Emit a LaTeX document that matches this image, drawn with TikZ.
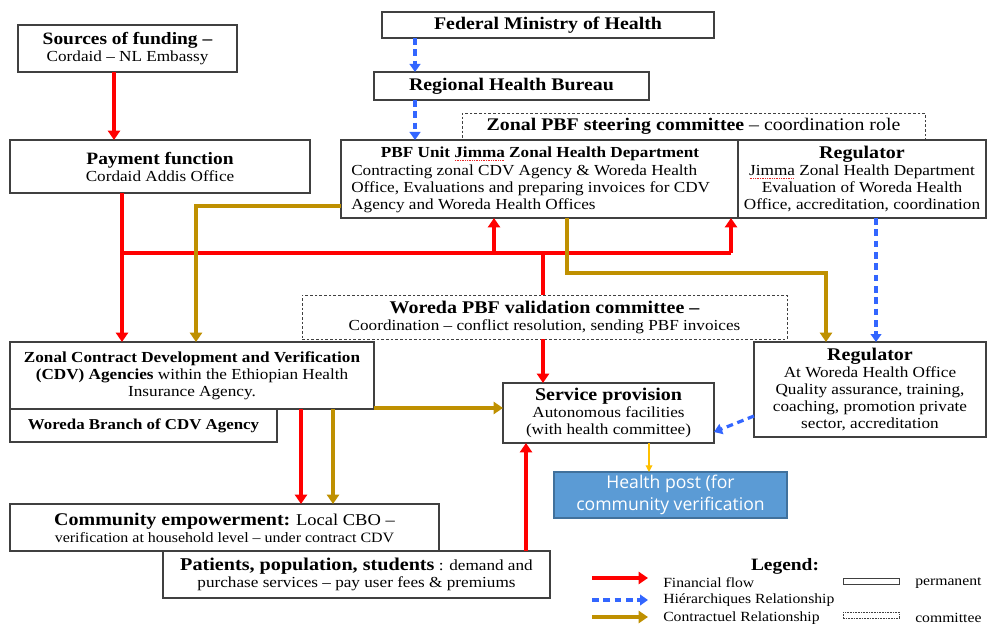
\documentclass[tikz,border=0pt]{standalone}
\usepackage{fontspec}
\setmainfont{Liberation Serif}[FakeStretch=1.12]
\newfontfamily\hpfont{Open Sans}
\usetikzlibrary{arrows.meta}

\definecolor{finred}{RGB}{255,0,0}
\definecolor{hierblue}{RGB}{51,102,255}
\definecolor{congold}{RGB}{191,144,0}
\definecolor{postblue}{RGB}{91,155,213}
\definecolor{postedge}{RGB}{65,113,156}
\definecolor{frame}{RGB}{64,64,64}
\definecolor{postlink}{RGB}{255,192,0}
\definecolor{spellred}{RGB}{230,40,40}

\newcommand{\fs}[2]{\fontsize{#1}{#2}\selectfont}
% box from corner (x1,y1) to (x2,y2) in pixel-like units
\newcommand{\mkbox}[7][]{\node[boxframe,minimum width={(#5-#3)*0.75pt},minimum height={(#6-#4)*0.75pt},#1] (#2) at ({(#3+#5)/2},{(#4+#6)/2}) {#7};}
\newcommand{\hd}{\fs{13.4}{15}\bfseries}
% word with a dotted red underline
\newcommand{\spellmark}[1]{\setbox0\hbox{#1}\rlap{\raisebox{-2.4pt}{\textcolor{spellred}{\leaders\hbox to 1.3pt{\hss\rule{0.7pt}{0.6pt}\hss}\hskip\wd0}}}#1}

\tikzset{
  boxframe/.style={draw=frame, fill=white, line width=0.8pt, inner sep=0pt, outer sep=0pt, align=center, font=\fs{11.5}{12.75}},
  committee/.style={dash pattern=on 2pt off 1.5pt, line width=0.6pt},
  fin/.style={draw=finred, line width=2.6pt, -{Triangle[length=7pt,width=9pt]}},
  finline/.style={draw=finred, line width=2.6pt},
  hier/.style={draw=hierblue, line width=2.4pt, dash pattern=on 5pt off 3.5pt, -{Triangle[length=6pt,width=8pt]}},
  con/.style={draw=congold, line width=2.6pt, -{Triangle[length=7pt,width=9pt]}},
  postarrow/.style={draw=postlink, line width=0.9pt, -{Triangle[length=5pt,width=5pt]}},
  txt/.style={inner sep=0pt, font=\fs{11.5}{12.75}},
  legtxt/.style={inner sep=0pt, anchor=west, font=\fs{10.5}{12}},
}

\begin{document}
\begin{tikzpicture}[x=0.75pt,y=-0.75pt]
\useasboundingbox (0,0) rectangle (987,624);

% ---- boxes ----
\mkbox{src}{18}{25}{237}{72}{{\fs{13}{15}\bfseries Sources of funding –}\\ Cordaid – NL Embassy}
\mkbox{fmoh}{382}{12}{714}{38}{\fs{13.3}{15}\bfseries Federal Ministry of Health}
\mkbox{rhb}{374}{72}{649}{100}{\fs{13.3}{15}\bfseries Regional Health Bureau}
\mkbox{pay}{10}{140}{310}{193}{{\fs{13}{15}\bfseries Payment function}\\ Cordaid Addis Office}
\mkbox[committee]{steer}{462}{113}{925}{140}{\fs{13.3}{15}\textbf{Zonal PBF steering committee} – coordination role}

\mkbox{pbf}{341}{140}{738}{218}{}
\node[txt, font=\fs{11.5}{13}\bfseries] (pbfhead) at (540,154) {PBF Unit \spellmark{Jimma} Zonal Health Department};
\node[txt, anchor=west, align=left] (pbfbody) at (351,189) {Contracting zonal CDV Agency \& Woreda Health\\ Office, Evaluations and preparing invoices for CDV\\ Agency and Woreda Health Offices};

\mkbox{regz}{738}{140}{986}{218}{{\hd Regulator}\\ \spellmark{Jimma} Zonal Health Department\\ Evaluation of Woreda Health\\ Office, accreditation, coordination}

\mkbox[committee]{wval}{302}{295}{787}{339}{{\hd Woreda PBF validation committee –}\\ Coordination – conflict resolution, sending PBF invoices}

\mkbox{cdv}{10}{342}{374}{409}{\textbf{Zonal Contract Development and Verification}\\ \textbf{(CDV) Agencies} within the Ethiopian Health\\ Insurance Agency.}
\mkbox{wbr}{10}{409}{277}{442}{\fs{11.3}{13}\bfseries Woreda Branch of CDV Agency}

\mkbox{svc}{503}{383}{714}{443}{{\hd Service provision}\\ Autonomous facilities\\ (with health committee)}
\mkbox{regw}{754}{342}{986}{437}{{\hd Regulator}\\ At Woreda Health Office\\ Quality assurance, training,\\ coaching, promotion private\\ sector, accreditation}

\mkbox[fill=postblue, draw=postedge, text=white, font=\hpfont\fs{13.2}{16}]{hpost}{554}{472}{787}{518}{Health post (for\\ community verification}

\mkbox{comm}{10}{504}{439}{551}{{\hd Community empowerment:} {\fs{12.4}{15}Local CBO –}\\ {\fs{10.7}{13}verification at household level – under contract CDV}}
\mkbox{pat}{163}{551}{550}{598}{{\fs{13.5}{15}\bfseries Patients, population, students} : demand and\\ purchase services – pay user fees \& premiums}

% ---- hierarchy (blue dashed) ----
\coordinate (hx) at (415,0);
\draw[hier] (fmoh.south -| hx) -- (rhb.north -| hx);
\draw[hier] (rhb.south -| hx) -- (pbf.north -| hx);
\coordinate (hx2) at (876,0);
\draw[hier] (regz.south -| hx2) -- (regw.north -| hx2);
\coordinate (hy1) at (0,416);
\coordinate (hy2) at (0,432);
\draw[hier] (regw.west |- hy1) -- (svc.east |- hy2);

% ---- financial flow (red) ----
\coordinate (fx) at (114,0);
\draw[fin] (src.south -| fx) -- (pay.north -| fx);
\coordinate (busL) at (122,253);
\coordinate (busA) at (494,253);
\coordinate (busV) at (543,253);
\coordinate (busR) at (731,253);
\draw[finline] (busL) -- (busR);
\draw[fin] (pay.south -| busL) -- (cdv.north -| busL);
\draw[fin] (busA) -- (pbf.south -| busA);
\draw[fin] (busR) -- (pbf.south -| busR);
\draw[finline] (busV) -- (wval.north -| busV);
\draw[fin] (wval.south -| busV) -- (svc.north -| busV);
\coordinate (cx1) at (301,0);
\draw[fin] (cdv.south -| cx1) -- (comm.north -| cx1);
\coordinate (px) at (526,0);
\draw[fin] (pat.north -| px) -- (svc.south -| px);

% ---- contractual (gold) ----
\coordinate (g1) at (196,206);
\draw[con] (pbf.west |- g1) -- (g1) -- (cdv.north -| g1);
\coordinate (g2a) at (567,273);
\coordinate (g2b) at (826,273);
\draw[con] (pbf.south -| g2a) -- (g2a) -- (g2b) -- (regw.north -| g2b);
\coordinate (g3) at (0,408);
\draw[con] (cdv.east |- g3) -- (svc.west |- g3);
\coordinate (cx2) at (333,0);
\draw[con] (cdv.south -| cx2) -- (comm.north -| cx2);

% ---- service to health post ----
\coordinate (hpx) at (649,0);
\draw[postarrow] (svc.south -| hpx) -- (hpost.north -| hpx);

% ---- legend ----
\node[inner sep=0pt, font=\fs{13}{15}\bfseries] (legtitle) at (785,566) {Legend:};
\coordinate (lf1) at (592,578); \coordinate (lf2) at (648,578);
\draw[fin] (lf1) -- (lf2);
\node[legtxt] (lfin) at (663,583) {Financial flow};
\coordinate (lh1) at (592,600); \coordinate (lh2) at (648,600);
\draw[hier] (lh1) -- (lh2);
\node[legtxt] (lhier) at (663,600) {Hiérarchiques Relationship};
\coordinate (lc1) at (592,617); \coordinate (lc2) at (648,617);
\draw[con] (lc1) -- (lc2);
\node[legtxt] (lcon) at (663,618) {Contractuel Relationship};
\node[draw=frame, line width=0.6pt, minimum width={56*0.75pt}, minimum height={6*0.75pt}, inner sep=0pt] (lperm) at (871,581) {};
\node[legtxt] (lpermt) at (915,583) {permanent};
\node[draw=frame, line width=0.5pt, dash pattern=on 1.2pt off 0.8pt, minimum width={56*0.75pt}, minimum height={6*0.75pt}, inner sep=0pt] (lcomm) at (871,615) {};
\node[legtxt] (lcommt) at (915,618) {committee};
\end{tikzpicture}
\end{document}
